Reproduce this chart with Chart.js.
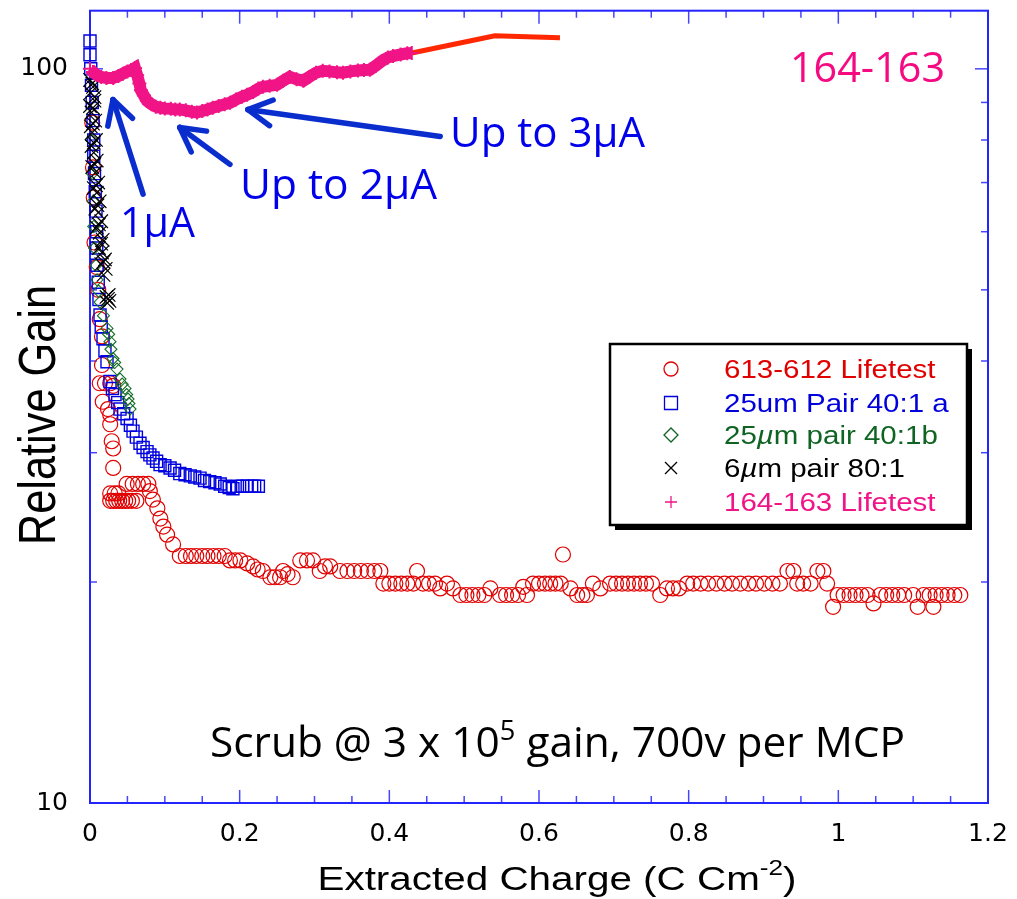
<!DOCTYPE html>
<html><head><meta charset="utf-8">
<script src="https://cdn.jsdelivr.net/npm/chart.js@4.4.0/dist/chart.umd.min.js"></script>
<style>html,body{margin:0;padding:0;background:#fff;}canvas{display:block;}</style>
</head><body>
<canvas id="c" width="1017" height="899"></canvas>
<script>
// ---------- data (x = extracted charge C/cm^2, y = relative gain) ----------
const xTickValues = [0, 0.2, 0.4, 0.6, 0.8, 1, 1.2];
const xTickLabels = ['0', '0.2', '0.4', '0.6', '0.8', '1', '1.2'];
const yTickValues = [10, 100];
const yTickLabels = ['10', '100'];
const yMinorValues = [20, 30, 40, 50, 60, 70, 80, 90];
const xMinorStep = 0.05;

const seriesNames = ['613-612 Lifetest', '25um Pair 40:1 a', '25\u00b5m pair 40:1b', '6\u00b5m pair 80:1', '164-163 Lifetest'];

const red612 = [[0.003,84.5],[0.004,73.4],[0.005,66.8],[0.006,58.0],[0.009,53.7],[0.011,50.0],[0.013,45.6],[0.016,43.2],[0.016,39.5],[0.013,37.3],[0.020,37.3],[0.027,37.3],[0.031,37.0],[0.017,35.2],[0.024,34.4],[0.027,33.8],[0.027,32.8],[0.029,31.1],[0.031,30.4],[0.031,28.6],
[0.027,26.4],[0.033,26.4],[0.038,26.4],
[0.027,25.8],[0.031,25.8],[0.035,25.8],[0.039,25.8],[0.043,25.8],[0.047,25.8],[0.051,25.8],[0.056,25.8],[0.062,25.8],
[0.049,27.2],[0.057,27.2],[0.064,27.2],[0.071,27.2],[0.078,27.2],
[0.080,26.6],[0.084,25.9],[0.090,25.2],[0.094,24.4],[0.098,23.8],[0.103,23.2],[0.111,22.5],[0.120,21.7],
[0.128,21.7],[0.135,21.7],[0.142,21.7],[0.150,21.7],[0.157,21.7],[0.165,21.7],[0.172,21.7],[0.180,21.7],
[0.187,21.4],[0.194,21.4],[0.201,21.4],[0.210,21.2],[0.218,21.0],[0.224,20.8],[0.231,20.7],[0.241,20.3],[0.247,20.3],[0.254,20.3],[0.258,20.7],[0.264,20.5],[0.271,20.3],[0.281,21.4],[0.290,21.4],[0.298,21.4],[0.307,20.7],[0.314,21.0],[0.321,21.0],[0.334,20.7],[0.344,20.7],[0.353,20.7],[0.362,20.7],[0.371,20.7],[0.380,20.7],[0.388,20.7],
[0.392,19.9],[0.400,19.9],[0.408,19.9],[0.416,19.9],[0.424,19.9],[0.432,19.9],[0.437,20.7],[0.445,19.9],[0.453,19.9],[0.461,19.9],[0.468,19.6],[0.477,19.9],[0.485,19.6],[0.495,19.2],[0.503,19.2],[0.511,19.2],[0.519,19.2],[0.527,19.2],[0.535,19.6],[0.548,19.2],[0.556,19.2],[0.564,19.2],[0.572,19.2],[0.579,19.7],[0.584,19.2],
[0.592,19.9],[0.600,19.9],[0.608,19.9],[0.615,19.9],[0.622,19.9],[0.629,19.9],[0.632,21.8],[0.642,19.6],[0.651,19.2],[0.658,19.2],[0.664,19.2],[0.672,19.9],[0.682,19.6],[0.695,19.9],[0.703,19.9],[0.711,19.9],[0.719,19.9],[0.727,19.9],[0.735,19.9],[0.743,19.9],[0.751,19.9],[0.762,19.2],[0.771,19.6],[0.779,19.6],[0.787,19.6],
[0.798,19.9],[0.806,19.9],[0.816,19.9],[0.826,19.9],[0.837,19.9],[0.848,19.9],[0.858,19.9],[0.869,19.9],[0.880,19.9],[0.890,19.9],[0.901,19.9],[0.912,19.9],[0.922,19.9],[0.932,20.7],[0.940,20.7],[0.945,19.9],[0.953,19.9],[0.963,19.9],[0.972,20.7],[0.980,20.7],[0.985,19.9],[0.993,18.5],
[0.999,19.2],[1.007,19.2],[1.015,19.2],[1.023,19.2],[1.031,19.2],[1.039,19.2],[1.047,18.7],[1.056,19.2],[1.064,19.2],[1.072,19.2],[1.080,19.2],[1.088,19.2],[1.100,19.2],[1.106,18.5],[1.114,19.2],[1.122,19.2],[1.127,18.5],[1.130,19.2],[1.138,19.2],[1.146,19.2],[1.155,19.2],[1.163,19.2]];

const blue40a = [[0,109.1],[0,104.5],[0.001,100],[0.002,95],[0.003,90],[0.004,85],[0.005,80],[0.005,76],[0.006,72],[0.007,68],[0.008,64],[0.009,60],[0.009,57],[0.0094,54.0],[0.011,51.2],[0.012,48.5],[0.0134,46.2],[0.015,44.5],[0.0174,42.9],[0.020,41.3],[0.0227,39.9],[0.0267,37.5],[0.030,36.7],[0.0334,36.0],[0.037,35.1],[0.0401,34.4],[0.045,33.9],[0.0495,33.4],[0.054,32.7],[0.0575,32.1],[0.062,31.5],[0.0668,30.9],[0.071,30.5],[0.0762,30.1],[0.080,29.8],[0.0842,29.5],[0.089,29.2],[0.0936,28.9],[0.100,28.8],[0.107,28.6],[0.113,28.4],[0.120,28.1],[0.127,28.0],[0.134,27.9],[0.140,27.8],[0.147,27.7],[0.153,27.5],[0.160,27.4],[0.167,27.3],[0.174,27.2],[0.180,27.0],[0.186,26.9],[0.191,26.8],[0.197,27.0],[0.204,27.0],[0.210,27.0],[0.216,27.0],[0.220,27.0],[0.225,27.0]];

const green40b = [[0.002,80],[0.003,72],[0.004,66],[0.005,61],[0.006,57],[0.008,54],[0.0094,51.6],[0.0115,49.8],[0.0134,48.1],[0.018,46.1],[0.0227,44.3],[0.025,43.5],[0.0267,42.5],[0.028,41.5],[0.0307,40.3],[0.033,39.8],[0.0361,39.0],[0.0401,37.8],[0.043,37.2],[0.0468,36.7],[0.049,36.0],[0.0508,35.5],[0.052,35.0],[0.0535,34.4]];

const black80 = [[0.000,96.6],[0.003,95.5],[0.004,94.5],[0.001,92.8],[0.006,91.5],[0.006,90.5],[0.000,89],[0.004,88.5],[0.002,87.2],[0.007,85],[0.004,84.2],[0.001,83.5],[0.003,81.9],[0.008,80],[0.005,79.3],[0.002,78.5],[0.005,76.9],[0.009,75],[0.006,74.2],[0.003,73.5],[0.007,72.2],[0.011,70],[0.008,69.4],[0.005,68.8],[0.009,67.8],[0.013,66],[0.010,65.2],[0.007,64.5],[0.011,63.7],[0.015,62],[0.012,61.4],[0.009,60.8],[0.013,59.8],[0.017,58.5],[0.015,57.8],[0.012,57],[0.016,56.2],[0.020,55],[0.018,54.6],[0.015,54.2],[0.021,53.4],[0.018,52.4],[0.022,48.9],[0.024,48.6],[0.026,48.3],[0.023,48.0],[0.025,49.2]];

const pink163 = [[0,100],[0.004,99],[0.009,98.1],[0.015,97.5],[0.022,97.2],[0.031,97.2],[0.038,97.8],[0.044,98.5],[0.050,99.2],[0.055,99.6],[0.060,100.3],[0.063,98],[0.066,95.5],[0.068,93.5],[0.072,92],[0.076,90.5],[0.082,89.5],[0.088,88.8],[0.094,88.5],[0.100,88.3],[0.108,88.2],[0.114,88.0],[0.120,88.0],[0.128,87.8],[0.136,87.4],[0.143,87.2],[0.150,87.6],[0.157,88.0],[0.164,88.5],[0.172,89.0],[0.180,89.5],[0.187,89.9],[0.195,90.8],[0.203,91.6],[0.210,92.2],[0.218,93],[0.225,94],[0.231,94.5],[0.240,94.8],[0.250,95.1],[0.258,96.3],[0.267,97.5],[0.276,96.8],[0.285,96.3],[0.293,97.5],[0.302,98.8],[0.311,99.4],[0.320,99.2],[0.330,98.9],[0.338,98.8],[0.348,99.2],[0.358,99.5],[0.366,99.6],[0.374,99.7],[0.382,101],[0.390,102.5],[0.398,103.6],[0.405,104.1],[0.415,104.6],[0.424,105],[0.430,105.1]];

const redLine163 = [[0.430,105.1],[0.541,110.9],[0.628,110.2]];

// annotation arrows in data coords: [tailX, tailY, tipX, tipY]
const arrows = [[0.0709,67.5,0.0307,90.8],[0.187,74.1,0.120,83.2],[0.468,80.9,0.211,88.0]];

// ---------- styles ----------
const C_RED='rgb(225,0,0)', C_BLUE='rgb(0,0,225)', C_GREEN='rgb(20,110,40)', C_BLACK='#000', C_PINK='rgb(240,20,135)', C_LINE='rgb(255,40,0)';
const AXIS='#2424ff', TICK='#4646ff';
const pts = a => a.map(([x,y]) => ({x, y}));

function richText(ctx, segs, x, y, opts) {
  let total = 0; const ws = [];
  for (const s of segs) { ctx.font = s.font; const w = ctx.measureText(s.t).width; ws.push(w); total += w; }
  const sc = opts.width ? opts.width / total : (opts.sx || 1);
  const sx = opts.align === 'center' ? x - total*sc/2 : x;
  ctx.save(); ctx.translate(sx, y); ctx.scale(sc, 1);
  ctx.textAlign = 'left'; ctx.textBaseline = opts.baseline || 'alphabetic';
  let cx = 0;
  segs.forEach((s, i) => { ctx.font = s.font; ctx.fillStyle = s.color || opts.color || '#000'; ctx.fillText(s.t, cx, s.dy || 0); cx += ws[i]; });
  ctx.restore();
}
function seg(ctx, x1, y1, x2, y2) { ctx.beginPath(); ctx.moveTo(x1,y1); ctx.lineTo(x2,y2); ctx.stroke(); }
function marker(ctx, style, x, y, color) {
  ctx.save(); ctx.strokeStyle = color; ctx.lineWidth = 1.3; ctx.beginPath();
  if (style === 'circle') { ctx.arc(x, y, 7, 0, Math.PI*2); }
  else if (style === 'rect') { ctx.rect(x-6.5, y-6.5, 13, 13); }
  else if (style === 'rectRot') { ctx.moveTo(x-7,y); ctx.lineTo(x,y-7); ctx.lineTo(x+7,y); ctx.lineTo(x,y+7); ctx.closePath(); }
  else if (style === 'crossRot') { ctx.moveTo(x-6,y-6); ctx.lineTo(x+6,y+6); ctx.moveTo(x+6,y-6); ctx.lineTo(x-6,y+6); }
  else { ctx.moveTo(x-6,y); ctx.lineTo(x+6,y); ctx.moveTo(x,y-6); ctx.lineTo(x,y+6); }
  ctx.stroke(); ctx.restore();
}

const frame = {
  id: 'frame',
  beforeDatasetsDraw(chart) {
    const {ctx, chartArea: a, scales: {x, y}} = chart;
    ctx.save();
    ctx.strokeStyle = TICK; ctx.lineWidth = 1.5;
    const n = Math.round(1.2 / xMinorStep);
    for (let i = 0; i <= n; i++) {
      const px = x.getPixelForValue(i * xMinorStep);
      const L = (i % 4 === 0) ? 13 : 7;
      seg(ctx, px, a.bottom, px, a.bottom - L);
      seg(ctx, px, a.top, px, a.top + L);
    }
    for (const v of yTickValues.concat(yMinorValues)) {
      const py = y.getPixelForValue(v);
      const L = yTickValues.includes(v) ? 13 : 7;
      seg(ctx, a.left, py, a.left + L, py);
      seg(ctx, a.right, py, a.right - L, py);
    }
    ctx.strokeStyle = AXIS; ctx.lineWidth = 2;
    ctx.strokeRect(a.left, a.top, a.right - a.left, a.bottom - a.top);
    ctx.restore();
  },
  afterDraw(chart) {
    const {ctx, chartArea: a, scales: {x, y}} = chart;
    ctx.save();
    // axis titles
    ctx.save(); ctx.translate(41, 415); ctx.scale(1.18, 1); ctx.rotate(-Math.PI/2);
    richText(ctx, [{t:'Relative Gain', font:'44px "Liberation Sans"'}], 0, 0, {align:'center', baseline:'middle', width:260});
    ctx.restore();
    richText(ctx, [{t:'Extracted Charge (C Cm', font:'34px "Liberation Sans"'},{t:'-2', font:'22px "Liberation Sans"', dy:-15},{t:')', font:'34px "Liberation Sans"'}], 557, 890, {align:'center', width:479});

    // annotations
    richText(ctx, [{t:'164-163', font:'42px "Open Sans"'}], 790, 82, {width:155, color:'rgb(245,10,130)'});
    const aBlue = 'rgb(0,0,235)';
    richText(ctx, [{t:'Up to 3\u03bcA', font:'42px "Open Sans"'}], 450, 147, {width:195, color:aBlue});
    richText(ctx, [{t:'Up to 2\u03bcA', font:'42px "Open Sans"'}], 240, 199, {width:197, color:aBlue});
    richText(ctx, [{t:'1\u03bcA', font:'42px "Open Sans"'}], 120, 237, {width:75, color:aBlue});
    richText(ctx, [{t:'Scrub @ 3 x 10', font:'42px "Open Sans"'},{t:'5', font:'27px "Open Sans"', dy:-17},{t:' gain, 700v per MCP', font:'42px "Open Sans"'}], 210, 757, {width:695, color:'#000'});

    // arrows
    ctx.strokeStyle = 'rgb(10,45,205)'; ctx.lineWidth = 5.5; ctx.lineCap = 'round';
    for (const [tx, ty, hx, hy] of arrows) {
      const x1 = x.getPixelForValue(tx), y1 = y.getPixelForValue(ty);
      const x2 = x.getPixelForValue(hx), y2 = y.getPixelForValue(hy);
      seg(ctx, x1, y1, x2, y2);
      const ang = Math.atan2(y1 - y2, x1 - x2), L = 27, sp = 0.5;
      seg(ctx, x2, y2, x2 + L*Math.cos(ang+sp), y2 + L*Math.sin(ang+sp));
      seg(ctx, x2, y2, x2 + L*Math.cos(ang-sp), y2 + L*Math.sin(ang-sp));
    }

    // legend
    const bx = 610, by = 344, bw = 357, bh = 181;
    ctx.fillStyle = '#000'; ctx.fillRect(bx + 5, by + 5, bw, bh);
    ctx.fillStyle = '#fff'; ctx.fillRect(bx, by, bw, bh);
    ctx.strokeStyle = '#000'; ctx.lineWidth = 2.5; ctx.lineCap = 'butt'; ctx.strokeRect(bx, by, bw, bh);
    const rows = [369, 403, 435, 468, 502];
    const styles = ['circle', 'rect', 'rectRot', 'crossRot', 'cross'];
    const cols = [C_RED, 'rgb(0,0,220)', 'rgb(15,100,35)', C_BLACK, C_PINK];
    const F = '25px "Liberation Sans"', FI = 'italic 25px "Liberation Sans"';
    const texts = [
      [{t:seriesNames[0], font:F}],
      [{t:seriesNames[1], font:F}],
      [{t:'25', font:F},{t:'\u00b5', font:FI},{t:'m pair 40:1b', font:F}],
      [{t:'6', font:F},{t:'\u00b5', font:FI},{t:'m pair 80:1', font:F}],
      [{t:seriesNames[4], font:F}]
    ];
    rows.forEach((ry, i) => {
      marker(ctx, styles[i], 671, ry, cols[i]);
      richText(ctx, texts[i], 724, ry + 9, {sx:1.18, color:cols[i]});
    });
    ctx.restore();
  }
};

new Chart(document.getElementById('c'), {
  type: 'scatter',
  data: {
    datasets: [
      {label: seriesNames[4], data: pts(pink163), showLine: true, borderColor: C_PINK, backgroundColor: C_PINK, borderWidth: 12, pointStyle: 'cross', pointRadius: 7, pointBorderWidth: 2, clip: false},
      {label: 'line', data: pts(redLine163), showLine: true, borderColor: C_LINE, borderWidth: 5, pointRadius: 0, clip: false},
      {label: seriesNames[3], data: pts(black80), borderColor: C_BLACK, backgroundColor: 'transparent', pointStyle: 'crossRot', pointRadius: 9.5, pointBorderWidth: 1.2, clip: false},
      {label: seriesNames[2], data: pts(green40b), borderColor: C_GREEN, backgroundColor: 'transparent', pointStyle: 'rectRot', pointRadius: 6, pointBorderWidth: 1.1, clip: false},
      {label: seriesNames[1], data: pts(blue40a), borderColor: C_BLUE, backgroundColor: 'transparent', pointStyle: 'rect', pointRadius: 8.5, pointBorderWidth: 1.4, clip: false},
      {label: seriesNames[0], data: pts(red612), borderColor: C_RED, backgroundColor: 'transparent', pointStyle: 'circle', pointRadius: 7.5, pointBorderWidth: 1.2, clip: false}
    ]
  },
  options: {
    responsive: false, animation: false, devicePixelRatio: 1,
    layout: {padding: {top: 8, right: 29, left: 0, bottom: 0}},
    plugins: {legend: {display: false}, tooltip: {enabled: false}},
    scales: {
      x: {
        type: 'linear', min: 0, max: 1.2,
        afterBuildTicks: s => { s.ticks = xTickValues.map(v => ({value: v})); },
        afterFit: s => { s.height = 96; s.paddingLeft = 0; s.paddingRight = 0; },
        ticks: {callback: v => xTickLabels[xTickValues.indexOf(v)] ?? '', font: {family: 'DejaVu Sans', size: 25}, color: '#000', padding: 16, maxRotation: 0, autoSkip: false},
        grid: {display: false, drawTicks: false},
        border: {display: false}
      },
      y: {
        type: 'logarithmic', min: 10, max: 120,
        afterBuildTicks: s => { s.ticks = yTickValues.map(v => ({value: v})); },
        afterFit: s => { s.width = 90; s.paddingTop = 0; s.paddingBottom = 0; },
        ticks: {callback: v => yTickLabels[yTickValues.indexOf(v)] ?? '', font: {family: 'DejaVu Sans', size: 25}, color: '#000', padding: 22, autoSkip: false},
        grid: {display: false, drawTicks: false},
        border: {display: false}
      }
    }
  },
  plugins: [frame]
});
</script>
</body></html>
